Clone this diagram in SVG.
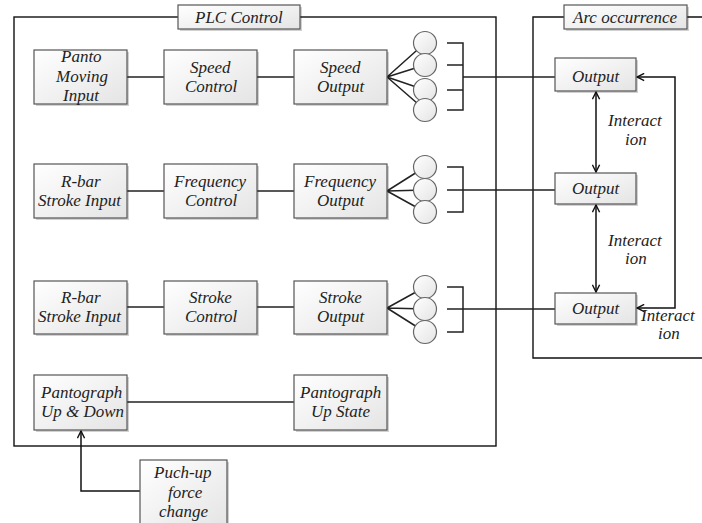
<svg xmlns="http://www.w3.org/2000/svg" width="702" height="523" viewBox="0 0 702 523">
  <defs>
    <linearGradient id="boxFill" x1="0" y1="0" x2="1" y2="1">
      <stop offset="0" stop-color="#ffffff"/>
      <stop offset="1" stop-color="#e4e4e4"/>
    </linearGradient>
    <marker id="chevEnd" viewBox="0 0 10 10" refX="9" refY="5" markerWidth="9" markerHeight="9" markerUnits="userSpaceOnUse" orient="auto">
      <path d="M1,1 L9,5 L1,9" fill="none" stroke="#111" stroke-width="1.6"/>
    </marker>
    <marker id="chevStart" viewBox="0 0 10 10" refX="1" refY="5" markerWidth="9" markerHeight="9" markerUnits="userSpaceOnUse" orient="auto">
      <path d="M9,1 L1,5 L9,9" fill="none" stroke="#111" stroke-width="1.6"/>
    </marker>
  </defs>
  <style>
    .frame { fill: none; stroke: #111; stroke-width: 1.4; }
    .shade { fill: #000; opacity: 0.18; }
    .box { fill: url(#boxFill); stroke: #555; stroke-width: 1.2; }
    .port { fill: url(#boxFill); stroke: #666; stroke-width: 1.2; }
    .wire { fill: none; stroke: #222; stroke-width: 1.5; }
    .arrow { fill: none; stroke: #111; stroke-width: 1.5; marker-end: url(#chevEnd); }
    .arrow2 { fill: none; stroke: #111; stroke-width: 1.5; marker-start: url(#chevStart); marker-end: url(#chevEnd); }
    text { font-family: 'Liberation Serif', serif; font-style: italic; font-size: 17px; fill: #222; }
  </style>

  <!-- outer frames -->
  <g id="plc-frame">
    <rect class="frame" x="14" y="17" width="482" height="429"/>
  </g>
  <g id="arc-frame">
    <path class="frame" d="M710,17 H533 V358 H710"/>
  </g>

  <!-- connectors -->
  <g id="connectors">
    <!-- chain lines -->
    <path class="wire" d="M127,77 H164 M257,77 H294"/>
    <path class="wire" d="M127,191 H164 M257,191 H294"/>
    <path class="wire" d="M127,307 H164 M257,307 H294"/>
    <path class="wire" d="M127,402 H294"/>

    <!-- speed fan-out -->
    <path class="wire" d="M387,77 L425,43 M387,77 L425,65 M387,77 L425,90 M387,77 L425,110"/>
    <path class="wire" d="M447,43 H463 V110 H447 M447,65 H463 M447,90 H463 M463,77 H555"/>

    <!-- frequency fan-out -->
    <path class="wire" d="M387,191 L425,167 M387,191 L425,190 M387,191 L425,212"/>
    <path class="wire" d="M447,167 H463 V212 H447 M447,190 H555"/>

    <!-- stroke fan-out -->
    <path class="wire" d="M387,308 L425,287 M387,308 L425,309 M387,308 L425,332"/>
    <path class="wire" d="M447,287 H463 V332 H447 M447,309 H555"/>

    <!-- interactions between outputs -->
    <path class="arrow2" d="M596,92 V172"/>
    <path class="arrow2" d="M596,205 V292"/>
    <path class="arrow2" d="M637,77 H675 V308 H637"/>

    <!-- push-up force feedback -->
    <path class="arrow" d="M140,491 H81 V431"/>
  </g>

  <!-- ports -->
  <g id="speed-ports">
    <circle class="port" cx="425" cy="43" r="11.5"/>
    <circle class="port" cx="425" cy="65" r="11.5"/>
    <circle class="port" cx="425" cy="90" r="11.5"/>
    <circle class="port" cx="425" cy="110" r="11.5"/>
  </g>
  <g id="frequency-ports">
    <circle class="port" cx="425" cy="167" r="11.5"/>
    <circle class="port" cx="425" cy="190" r="11.5"/>
    <circle class="port" cx="425" cy="212" r="11.5"/>
  </g>
  <g id="stroke-ports">
    <circle class="port" cx="425" cy="287" r="11.5"/>
    <circle class="port" cx="425" cy="309" r="11.5"/>
    <circle class="port" cx="425" cy="332" r="11.5"/>
  </g>

  <!-- frame labels -->
  <g id="plc-label">
    <rect class="shade" x="180" y="7" width="122" height="24"/>
    <rect class="box" x="178" y="5" width="122" height="24"/>
    <text x="195" y="23">PLC Control</text>
  </g>
  <g id="arc-label">
    <rect class="shade" x="566" y="7" width="123" height="24"/>
    <rect class="box" x="564" y="5" width="123" height="24"/>
    <text x="573" y="23">Arc occurrence</text>
  </g>

  <!-- row 1 -->
  <g id="panto-moving-input">
    <rect class="shade" x="36" y="52" width="93" height="54"/>
    <rect class="box" x="34" y="50" width="93" height="54"/>
    <text x="61" y="62">Panto</text>
    <text x="56" y="82">Moving</text>
    <text x="63" y="101">Input</text>
  </g>
  <g id="speed-control">
    <rect class="shade" x="166" y="52" width="93" height="54"/>
    <rect class="box" x="164" y="50" width="93" height="54"/>
    <text x="190" y="73">Speed</text>
    <text x="185" y="92">Control</text>
  </g>
  <g id="speed-output">
    <rect class="shade" x="296" y="52" width="93" height="54"/>
    <rect class="box" x="294" y="50" width="93" height="54"/>
    <text x="320" y="73">Speed</text>
    <text x="317" y="92">Output</text>
  </g>

  <!-- row 2 -->
  <g id="rbar-stroke-input-1">
    <rect class="shade" x="36" y="166" width="93" height="54"/>
    <rect class="box" x="34" y="164" width="93" height="54"/>
    <text x="61" y="187">R-bar</text>
    <text x="38" y="206">Stroke Input</text>
  </g>
  <g id="frequency-control">
    <rect class="shade" x="166" y="166" width="93" height="54"/>
    <rect class="box" x="164" y="164" width="93" height="54"/>
    <text x="174" y="187">Frequency</text>
    <text x="185" y="206">Control</text>
  </g>
  <g id="frequency-output">
    <rect class="shade" x="296" y="166" width="93" height="54"/>
    <rect class="box" x="294" y="164" width="93" height="54"/>
    <text x="304" y="187">Frequency</text>
    <text x="317" y="206">Output</text>
  </g>

  <!-- row 3 -->
  <g id="rbar-stroke-input-2">
    <rect class="shade" x="36" y="283" width="93" height="53"/>
    <rect class="box" x="34" y="281" width="93" height="53"/>
    <text x="61" y="303">R-bar</text>
    <text x="38" y="322">Stroke Input</text>
  </g>
  <g id="stroke-control">
    <rect class="shade" x="166" y="283" width="93" height="53"/>
    <rect class="box" x="164" y="281" width="93" height="53"/>
    <text x="189" y="303">Stroke</text>
    <text x="185" y="322">Control</text>
  </g>
  <g id="stroke-output">
    <rect class="shade" x="296" y="283" width="93" height="53"/>
    <rect class="box" x="294" y="281" width="93" height="53"/>
    <text x="319" y="303">Stroke</text>
    <text x="317" y="322">Output</text>
  </g>

  <!-- row 4 -->
  <g id="pantograph-up-down">
    <rect class="shade" x="36" y="377" width="93" height="55"/>
    <rect class="box" x="34" y="375" width="93" height="55"/>
    <text x="41" y="398">Pantograph</text>
    <text x="41" y="417">Up &amp; Down</text>
  </g>
  <g id="pantograph-up-state">
    <rect class="shade" x="296" y="377" width="93" height="55"/>
    <rect class="box" x="294" y="375" width="93" height="55"/>
    <text x="300" y="398">Pantograph</text>
    <text x="311" y="417">Up State</text>
  </g>
  <g id="push-up-force-change">
    <rect class="shade" x="142" y="462" width="87" height="70"/>
    <rect class="box" x="140" y="460" width="87" height="70"/>
    <text x="154" y="478">Puch-up</text>
    <text x="168" y="498">force</text>
    <text x="159" y="517">change</text>
  </g>

  <!-- arc outputs -->
  <g id="output-1">
    <rect class="shade" x="557" y="60" width="81" height="33"/>
    <rect class="box" x="555" y="58" width="81" height="33"/>
    <text x="572" y="82">Output</text>
  </g>
  <g id="output-2">
    <rect class="shade" x="557" y="175" width="81" height="31"/>
    <rect class="box" x="555" y="173" width="81" height="31"/>
    <text x="572" y="194">Output</text>
  </g>
  <g id="output-3">
    <rect class="shade" x="557" y="295" width="81" height="31"/>
    <rect class="box" x="555" y="293" width="81" height="31"/>
    <text x="572" y="314">Output</text>
  </g>

  <!-- interaction labels -->
  <g id="interaction-labels">
    <text x="608" y="126">Interact</text>
    <text x="625" y="145">ion</text>
    <text x="608" y="246">Interact</text>
    <text x="625" y="264">ion</text>
    <text x="641" y="321">Interact</text>
    <text x="658" y="339">ion</text>
  </g>
</svg>
